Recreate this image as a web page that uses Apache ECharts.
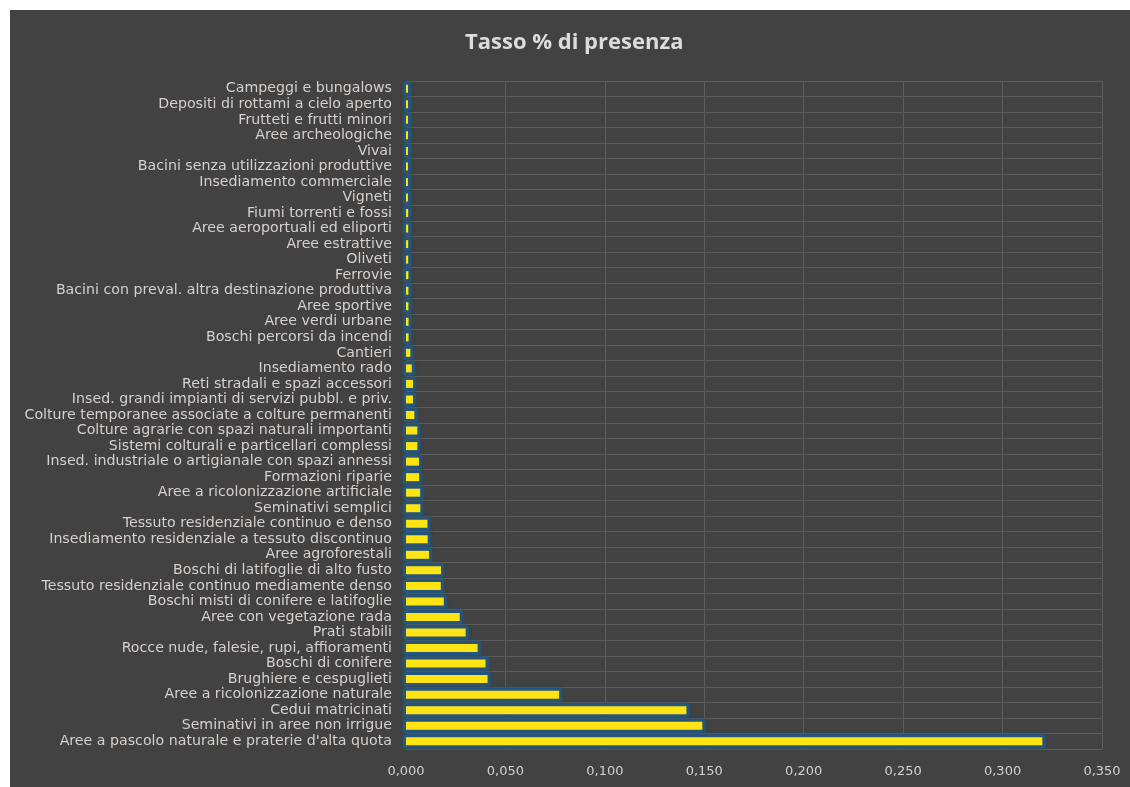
<!DOCTYPE html>
<html>
<head>
<meta charset="utf-8">
<script src="https://cdn.jsdelivr.net/npm/echarts@6/dist/echarts.min.js"></script>
<style>
html,body{margin:0;padding:0;background:#ffffff;width:1130px;height:787px;overflow:hidden;}
#chart{position:absolute;left:10px;top:10px;width:1120px;height:777px;background:#414241;}
</style>
</head>
<body>
<div id="chart"></div>
<script>
// Categories listed from bottom to top of the chart
const categories = [
  "Aree a pascolo naturale e praterie d'alta quota",
  "Seminativi in aree non irrigue",
  "Cedui matricinati",
  "Aree a ricolonizzazione naturale",
  "Brughiere e cespuglieti",
  "Boschi di conifere",
  "Rocce nude, falesie, rupi, affioramenti",
  "Prati stabili",
  "Aree con vegetazione rada",
  "Boschi misti di conifere e latifoglie",
  "Tessuto residenziale continuo mediamente denso",
  "Boschi di latifoglie di alto fusto",
  "Aree agroforestali",
  "Insediamento residenziale a tessuto discontinuo",
  "Tessuto residenziale continuo e denso",
  "Seminativi semplici",
  "Aree a ricolonizzazione artificiale",
  "Formazioni riparie",
  "Insed. industriale o artigianale con spazi annessi",
  "Sistemi colturali e particellari complessi",
  "Colture agrarie con spazi naturali importanti",
  "Colture temporanee associate a colture permanenti",
  "Insed. grandi impianti di servizi pubbl. e priv.",
  "Reti stradali e spazi accessori",
  "Insediamento rado",
  "Cantieri",
  "Boschi percorsi da incendi",
  "Aree verdi urbane",
  "Aree sportive",
  "Bacini con preval. altra destinazione produttiva",
  "Ferrovie",
  "Oliveti",
  "Aree estrattive",
  "Aree aeroportuali ed eliporti",
  "Fiumi torrenti e fossi",
  "Vigneti",
  "Insediamento commerciale",
  "Bacini senza utilizzazioni produttive",
  "Vivai",
  "Aree archeologiche",
  "Frutteti e frutti minori",
  "Depositi di rottami a cielo aperto",
  "Campeggi e bungalows"
];

const presenceRate = [
  0.320, 0.149, 0.141, 0.077, 0.041, 0.040, 0.036, 0.030, 0.027, 0.019,
  0.0175, 0.0176, 0.0116, 0.0109, 0.0108, 0.0072, 0.0071, 0.0066, 0.0065, 0.0057,
  0.0057, 0.0042, 0.0035, 0.0035, 0.0029, 0.0022, 0.0013, 0.0013, 0.0012, 0.0012,
  0.0012, 0.0011, 0.0011, 0.0011, 0.0011, 0.0010, 0.0010, 0.0010, 0.0010, 0.0010,
  0.0010, 0.0010, 0.0010
];

const xTicks = { min: 0, max: 0.35, interval: 0.05 };
const titleText = "Tasso % di presenza";

const seriesData = presenceRate.map((v, i) => [v, i]);

function renderBar(params, api) {
  const val = api.value(0);
  const idx = api.value(1);
  const start = api.coord([0, idx]);
  const end = api.coord([val, idx]);
  const yellowH = 8;
  const glow = 3;
  const w = Math.max(end[0] - start[0], 0);
  return {
    type: 'group',
    children: [
      {
        type: 'rect',
        shape: { x: start[0] - glow, y: start[1] - yellowH / 2 - glow, width: w + glow * 2, height: yellowH + glow * 2, r: 2 },
        style: { fill: '#24557c', shadowColor: 'rgba(36,85,124,0.7)', shadowBlur: 3 }
      },
      {
        type: 'rect',
        shape: { x: start[0], y: start[1] - yellowH / 2, width: w, height: yellowH },
        style: { fill: '#ffe414' }
      }
    ]
  };
}

const chart = echarts.init(document.getElementById('chart'), null, { renderer: 'canvas' });
chart.setOption({
  backgroundColor: '#414241',
  animation: false,
  title: {
    text: titleText,
    left: 450,
    top: 17,
    padding: 5,
    textStyle: { color: '#dcdcdc', fontSize: 22, fontWeight: 'bold', fontFamily: 'Open Sans' }
  },
  grid: { left: 396, right: 28, top: 71, bottom: 38, containLabel: false },
  xAxis: {
    type: 'value',
    min: xTicks.min, max: xTicks.max, interval: xTicks.interval,
    axisLine: { show: false },
    axisTick: { show: false },
    axisLabel: {
      color: '#d6d0ce', fontSize: 13, fontFamily: 'DejaVu Sans', margin: 16,
      formatter: v => v.toFixed(3).replace('.', ',')
    },
    splitLine: { show: true, lineStyle: { color: '#5c5c5c', width: 1 } }
  },
  yAxis: {
    type: 'category',
    data: categories,
    axisLine: { show: false },
    axisTick: { show: false },
    axisLabel: { color: '#d6d0ce', fontSize: 14.2, fontFamily: 'DejaVu Sans', margin: 14, interval: 0 },
    splitLine: { show: true, interval: 0, lineStyle: { color: '#5c5c5c', width: 1 } }
  },
  series: [{
    type: 'custom',
    renderItem: renderBar,
    data: seriesData,
    encode: { x: 0, y: 1 },
    clip: false
  }]
});
</script>
</body>
</html>
